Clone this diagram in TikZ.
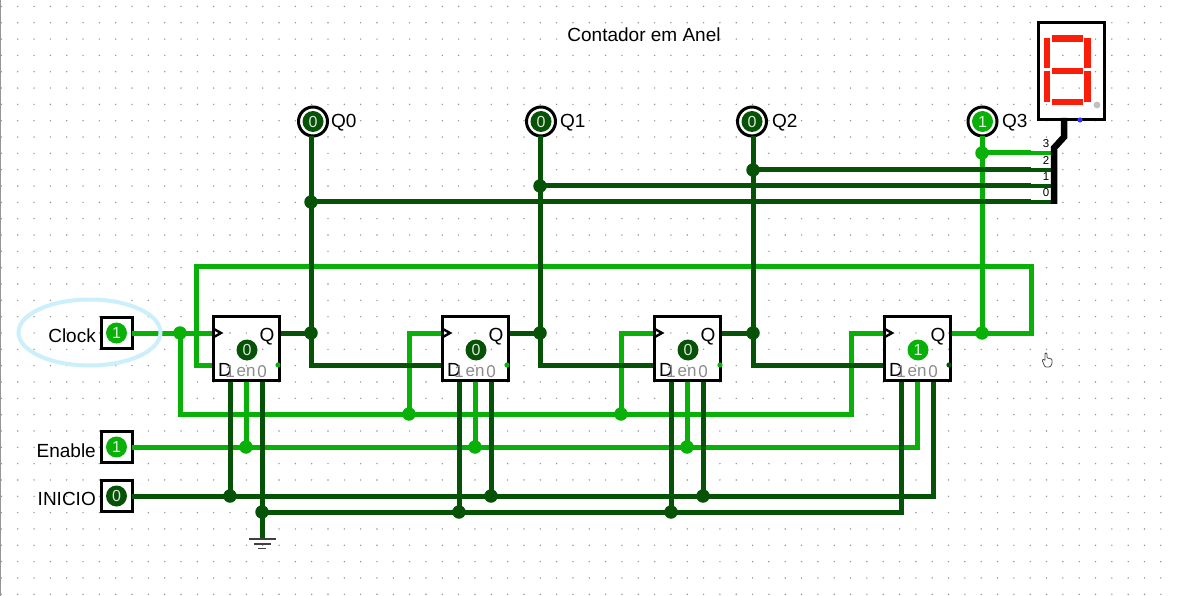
\documentclass[tikz,border=0pt]{standalone}
\usepackage{xcolor}
\usepackage{fontspec}
\setmainfont{Liberation Sans}
\usetikzlibrary{shapes.geometric, calc}

\definecolor{wirehigh}{RGB}{8,176,8}
\definecolor{wirelow}{RGB}{6,82,6}
\definecolor{griddot}{RGB}{150,150,150}
\definecolor{segred}{RGB}{250,30,10}

\begin{document}
\begin{tikzpicture}[
  x=1pt, y=-1pt,
  wirehi/.style={line width=5pt, draw=wirehigh, line join=miter},
  wirelo/.style={line width=5pt, draw=wirelow, line join=miter},
  dothi/.style={circle, fill=wirehigh, inner sep=0pt, outer sep=-3pt, minimum size=13.5pt},
  dotlo/.style={circle, fill=wirelow, inner sep=0pt, outer sep=-3pt, minimum size=13.5pt},
  flipflop/.style={rectangle, draw=black, line width=3pt, inner sep=0pt, outer sep=0pt, minimum width=66pt, minimum height=64pt},
  inbox/.style={rectangle, draw=black, line width=3pt, inner sep=0pt, outer sep=0pt, minimum size=31pt},
  outring/.style={circle, draw=black, line width=3pt, inner sep=0pt, outer sep=0pt, minimum size=29pt},
  valhi/.style={circle, fill=wirehigh, text=white!85!wirehigh, inner sep=0pt, minimum size=21pt, font=\fontsize{16}{16}\selectfont},
  vallo/.style={circle, fill=wirelow, text=white!85!wirelow, inner sep=0pt, minimum size=21pt, font=\fontsize{16}{16}\selectfont},
  caption/.style={inner sep=0pt, font=\fontsize{19}{19}\selectfont},
  pinlabel/.style={inner sep=0pt, text=black!45, font=\fontsize{17}{17}\selectfont},
  bitlabel/.style={inner sep=0pt, font=\fontsize{11.5}{11.5}\selectfont},
  segment/.style={fill=segred}
]
\useasboundingbox (0,0) rectangle (1181,596);
\fill[white] (0,0) rectangle (1181,596);
\draw[griddot, line width=1.2pt] (0.5,0) -- (0.5,596);

% ---------------------------------------------------
% Dot Grid
% ---------------------------------------------------
\foreach \i in {0,...,71}
  \foreach \j in {0,...,36}
    \fill[griddot] ({1.4+16.33*\i},{6.4+16.33*\j}) circle (0.8);

\node[caption] (title) at (644,35) {Contador em Anel};

% ---------------------------------------------------
% Flip-flops
% ---------------------------------------------------
\foreach \n/\x in {ffa/213, ffb/442, ffc/654, ffd/884} {
  \coordinate (\n-clk) at (\x,333);
  \coordinate (\n-d) at (\x,365);
  \coordinate (\n-q) at (\x+67,333);
  \coordinate (\n-pre) at (\x+17,381);
  \coordinate (\n-en) at (\x+33,381);
  \coordinate (\n-clr) at (\x+49,381);
}

% ---------------------------------------------------
% Inputs & Outputs
% ---------------------------------------------------
\node[inbox] (clk) at (116.5,333) {};
\node[inbox] (ena) at (116.5,447) {};
\node[inbox] (ini) at (116.5,496) {};

\node[outring] (qa) at (313,121.5) {};
\node[outring] (qb) at (541,121.5) {};
\node[outring] (qc) at (752,121.5) {};
\node[outring] (qd) at (982.5,121.5) {};

% ---------------------------------------------------
% Junctions
% ---------------------------------------------------
\node[dothi] (jclk) at (180,333) {};
\node[dothi] (jckb) at (409,414) {};
\node[dothi] (jckc) at (621,414) {};
\coordinate (ckd) at (851,414);

\node[dotlo] (jqa) at (311,333) {};
\node[dotlo] (jqb) at (540,333) {};
\node[dotlo] (jqc) at (753,333) {};
\node[dothi] (jqd) at (982,333) {};

\node[dotlo] (jbusa) at (311,202) {};
\node[dotlo] (jbusb) at (540,186) {};
\node[dotlo] (jbusc) at (753,170) {};
\node[dothi] (jbusd) at (982,153) {};

\coordinate (taga) at (1031,202);
\coordinate (tagb) at (1031,186);
\coordinate (tagc) at (1031,170);
\coordinate (tagd) at (1031,153);
\coordinate (pina) at (1054,202);
\coordinate (pinb) at (1054,186);
\coordinate (pinc) at (1054,170);
\coordinate (pind) at (1054,153);

\node[dothi] (jena) at (246,447) {};
\node[dothi] (jenb) at (475,447) {};
\node[dothi] (jenc) at (687,447) {};

\node[dotlo] (jinia) at (230,496) {};
\node[dotlo] (jinib) at (491,496) {};
\node[dotlo] (jinic) at (703,496) {};

\node[dotlo] (jgnd) at (262,512) {};
\node[dotlo] (jgndb) at (459,512) {};
\node[dotlo] (jgndc) at (671,512) {};
\coordinate (gnd) at (262,539);

\coordinate (fbright) at (1031,267);
\coordinate (fbleft) at (196,267);

% ---------------------------------------------------
% Draw Connections
% ---------------------------------------------------
\draw[wirehi] (ffd-q) -| (fbright) -- (fbleft) |- (ffa-d);

\draw[wirehi] (clk) -- (ffa-clk);
\draw[wirehi] (jclk) |- (ckd) |- (ffd-clk);
\draw[wirehi] (jckb) |- (ffb-clk);
\draw[wirehi] (jckc) |- (ffc-clk);

\draw[wirelo] (ffa-q) -- (jqa);
\draw[wirelo] (ffb-q) -- (jqb);
\draw[wirelo] (ffc-q) -- (jqc);
\draw[wirelo] (jqa |- qa.south) -- (jqa) |- (ffb-d);
\draw[wirelo] (jqb |- qb.south) -- (jqb) |- (ffc-d);
\draw[wirelo] (jqc |- qc.south) -- (jqc) |- (ffd-d);
\draw[wirehi] (jqd |- qd.south) -- (jqd);

\draw[wirelo] (jbusa) -- (taga);
\draw[wirelo] (jbusb) -- (tagb);
\draw[wirelo] (jbusc) -- (tagc);
\draw[wirehi] (jbusd) -- (tagd);
\draw[wirelo, line width=3.6pt] (taga) -- (pina);
\draw[wirelo, line width=3.6pt] (tagb) -- (pinb);
\draw[wirelo, line width=3.6pt] (tagc) -- (pinc);
\draw[wirehi, line width=3.6pt] (tagd) -- (pind);

\draw[wirehi] (ena) -| (ffd-en);
\draw[wirehi] (jena) -- (ffa-en);
\draw[wirehi] (jenb) -- (ffb-en);
\draw[wirehi] (jenc) -- (ffc-en);

\draw[wirelo] (ini) -| (ffd-clr);
\draw[wirelo] (jinia) -- (ffa-pre);
\draw[wirelo] (jinib) -- (ffb-clr);
\draw[wirelo] (jinic) -- (ffc-clr);

\draw[wirelo] (ffa-clr) -- (gnd);
\draw[wirelo] (jgnd) -| (ffd-pre);
\draw[wirelo] (jgndb) -- (ffb-pre);
\draw[wirelo] (jgndc) -- (ffc-pre);

% ---------------------------------------------------
% Flip-flop Bodies
% ---------------------------------------------------
\foreach \n/\x/\v/\s in {ffa/213/0/vallo, ffb/442/0/vallo, ffc/654/0/vallo, ffd/884/1/valhi} {
  \node[flipflop] (\n) at (\x+33.5,348.5) {};
  \draw[black, line width=2.4pt] (\x,328.5) -- (\x+8,333) -- (\x,337.5);
  \node[\s] (\n-state) at (\x+34,350) {\v};
  \node[caption] (\n-qlab) at (\x+54,337) {Q};
  \node[caption] (\n-dlab) at (\x+12,370) {D};
  \node[pinlabel] (\n-pone) at (\x+17,372) {1};
  \node[pinlabel] (\n-plab) at (\x+33,372) {en};
  \node[pinlabel] (\n-pzero) at (\x+49,372) {0};
}
\fill[wirehigh] (278,365) circle (2.6);
\fill[wirehigh] (507,365) circle (2.6);
\fill[wirehigh] (720,365) circle (2.6);
\fill[wirelow] (949,365) circle (2.6);

% ---------------------------------------------------
% Input & Output Values
% ---------------------------------------------------
\node[valhi] (clkval) at (clk) {1};
\node[valhi] (enaval) at (ena) {1};
\node[vallo] (inival) at (ini) {0};
\node[caption, anchor=east] (clklab) at (96,336) {Clock};
\node[caption, anchor=east] (enalab) at (96,451) {Enable};
\node[caption, anchor=east] (inilab) at (96,499) {INICIO};

\node[vallo] (qaval) at (qa) {0};
\node[vallo] (qbval) at (qb) {0};
\node[vallo] (qcval) at (qc) {0};
\node[valhi] (qdval) at (qd) {1};
\node[caption, anchor=west] (qalab) at (331,123) {Q0};
\node[caption, anchor=west] (qblab) at (560,123) {Q1};
\node[caption, anchor=west] (qclab) at (772,123) {Q2};
\node[caption, anchor=west] (qdlab) at (1002,123) {Q3};

\node[ellipse, draw=cyan!20, line width=4pt, inner sep=0pt, minimum width=142pt, minimum height=66pt] (clkmark) at (89.5,332.5) {};

% ---------------------------------------------------
% Ground
% ---------------------------------------------------
\draw[black!75, line width=1.3pt] (249,539) -- (276,539);
\draw[black!75, line width=1.3pt] (254,544) -- (271,544);
\draw[black!75, line width=1.3pt] (258,548.5) -- (266,548.5);

% ---------------------------------------------------
% Splitter & Display
% ---------------------------------------------------
\node[rectangle, draw=black, line width=3pt, inner sep=0pt, outer sep=0pt, minimum width=66pt, minimum height=97pt] (disp) at (1071.5,71) {};
\coordinate (splitbot) at (1054,204);
\coordinate (splittop) at (1064,118);
\draw[black, line width=6.5pt] (splitbot) -- (1054,148) -- (1064,137) -- (splittop);
\fill[black!25] (1097,105) circle (3.4);
\fill[blue!80] (1080,120) circle (2.6);

\fill[segment] (1052,35.5) rectangle (1083,42);
\fill[segment] (1052,68) rectangle (1083,74.5);
\fill[segment] (1052,99) rectangle (1083,105.5);
\fill[segment] (1043.5,38) rectangle (1050,68);
\fill[segment] (1043.5,71) rectangle (1050,102);
\fill[segment] (1084,38) rectangle (1090.5,68);
\fill[segment] (1084,71) rectangle (1090.5,102);

\node[bitlabel] (bita) at (1046,193) {0};
\node[bitlabel] (bitb) at (1046,177) {1};
\node[bitlabel] (bitc) at (1046,160.5) {2};
\node[bitlabel] (bitd) at (1046,144) {3};

% hand cursor
\draw[black!70, line width=0.8pt, fill=white, rounded corners=1pt] (1045,367) -- (1042,360) -- (1044,359) -- (1045,361) -- (1045,353) -- (1047,353) -- (1047,358) -- (1052,359) -- (1052,364) -- (1050,367) -- cycle;

\end{tikzpicture}
\end{document}
